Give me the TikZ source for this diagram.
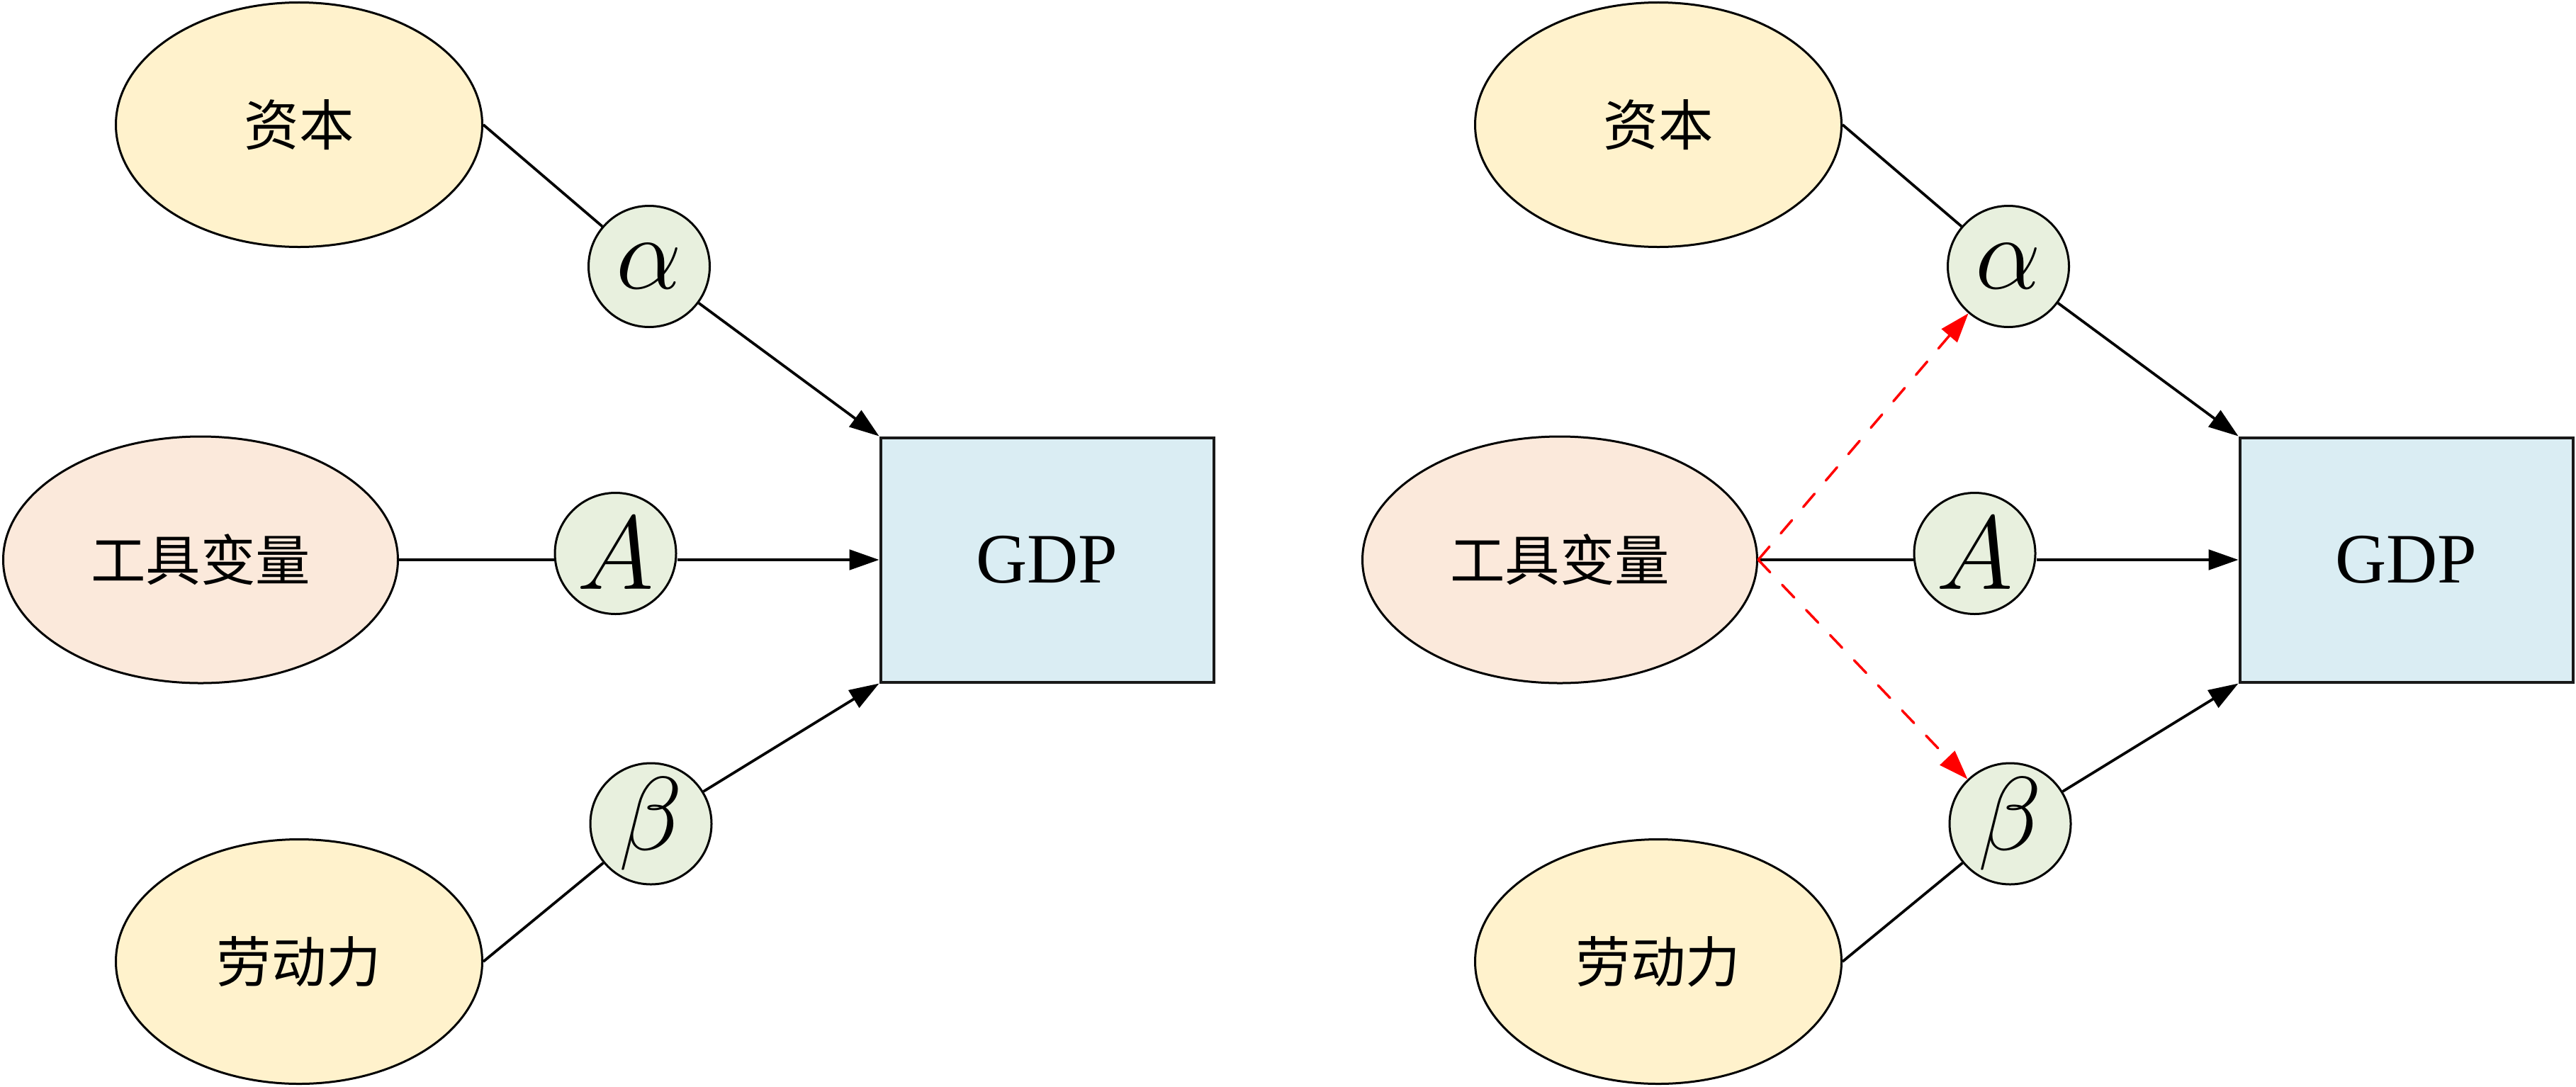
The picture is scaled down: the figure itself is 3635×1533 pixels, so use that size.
\RequirePackage{fix-cm}
\documentclass[tikz,border=0pt]{standalone}
\usepackage{fontspec}
\newfontfamily\cjk{Noto Sans CJK SC}
\newfontfamily\gdpfont{Liberation Serif}
\usetikzlibrary{arrows.meta,shapes.geometric}
\definecolor{fyellow}{HTML}{FFF2CC}
\definecolor{fpeach}{HTML}{FBE9DB}
\definecolor{fgreen}{HTML}{E8F0DE}
\definecolor{fblue}{HTML}{DAEDF3}
\begin{document}
\begin{tikzpicture}[x=0.2pt,y=-0.2pt,
  factor/.style={ellipse,draw=black,line width=0.6pt,fill=fyellow,
    minimum width=103.4pt,minimum height=69pt,inner sep=0pt,
    font=\cjk\fontsize{15.5}{15.5}\selectfont},
  instr/.style={factor,fill=fpeach,minimum width=111.4pt,minimum height=69.6pt},
  coef/.style={circle,draw=black,line width=0.6pt,fill=fgreen,
    minimum size=34.2pt,inner sep=0pt,font=\fontsize{29.5}{29.5}\selectfont},
  outbox/.style={rectangle,draw=black!90,line width=0.8pt,fill=fblue,
    minimum width=94pt,minimum height=69pt,inner sep=0pt,
    font=\gdpfont\fontsize{20}{20}\selectfont},
  conn/.style={draw=black,line width=0.75pt},
  tip/.style={-{Triangle[length=8.4pt,width=5.7pt]}},
  redarrow/.style={draw=red,line width=0.7pt,dash pattern=on 4.9pt off 4.9pt,
    line cap=round,-{Triangle[length=8.3pt,width=5.7pt]}}
]
\useasboundingbox (0,0) rectangle (3635,1533);

% ---------- left panel ----------
\node[factor] (zb) at (422,176) {资本};
\node[instr] (gj) at (283,790) {工具变量};
\node[factor] (ld) at (422,1357) {劳动力};
\node[coef] (alpha) at (916,376) {$\alpha$};
\node[coef] (A) at (868.5,781) {$A$};
\node[coef] (beta) at (918.5,1162.5) {$\beta$};
\node[outbox] (gdp) at (1477.5,790) {GDP};

\draw[conn] (zb.east) -- (alpha);
\draw[conn,tip] (alpha) -- (gdp.north west);
\draw[conn] (gj.east) -- (gj.east -| A.west);
\draw[conn,tip] (A.east |- gdp.west) -- (gdp.west);
\draw[conn] (ld.east) -- (beta);
\draw[conn,tip] (beta) -- (gdp.south west);

% ---------- right panel ----------
\node[factor] (zb2) at (2340,176) {资本};
\node[instr] (gj2) at (2201,790) {工具变量};
\node[factor] (ld2) at (2340,1357) {劳动力};
\node[coef] (alpha2) at (2834,376) {$\alpha$};
\node[coef] (A2) at (2786.5,781) {$A$};
\node[coef] (beta2) at (2836.5,1162.5) {$\beta$};
\node[outbox] (gdp2) at (3395.5,790) {GDP};

\draw[conn] (zb2.east) -- (alpha2);
\draw[conn,tip] (alpha2) -- (gdp2.north west);
\draw[conn] (gj2.east) -- (gj2.east -| A2.west);
\draw[conn,tip] (A2.east |- gdp2.west) -- (gdp2.west);
\draw[conn] (ld2.east) -- (beta2);
\draw[conn,tip] (beta2) -- (gdp2.south west);

\draw[redarrow] (gj2.east) -- (alpha2);
\draw[redarrow] (gj2.east) -- (beta2);
\end{tikzpicture}
\end{document}
